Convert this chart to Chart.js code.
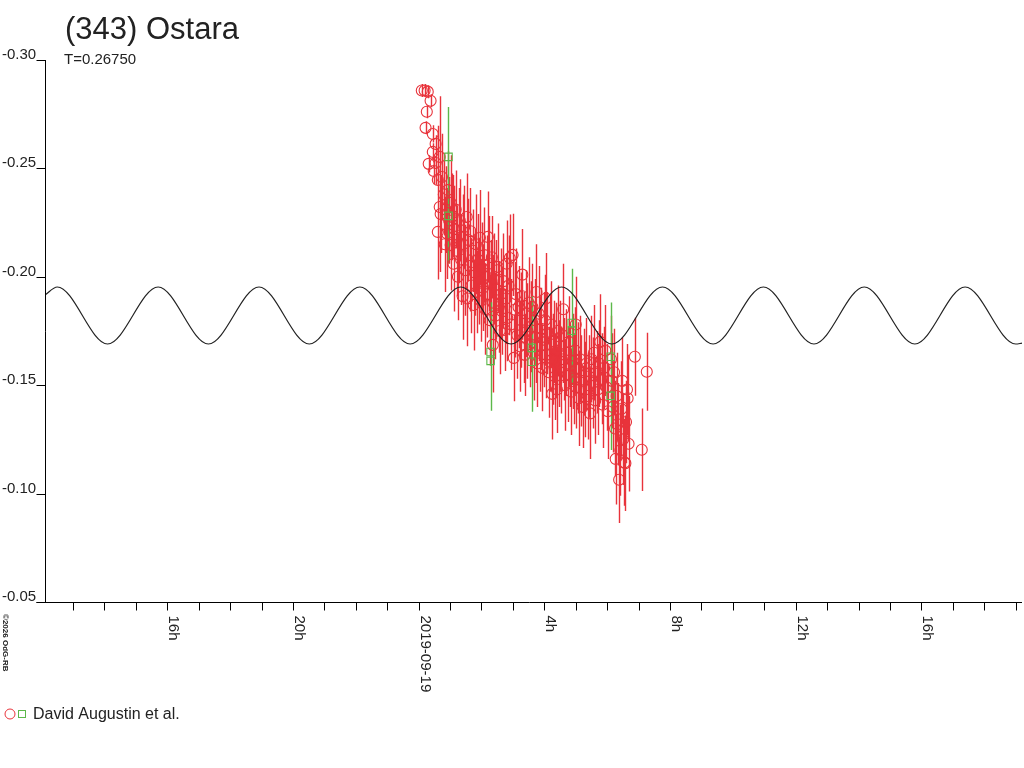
<!DOCTYPE html>
<html>
<head>
<meta charset="utf-8">
<title>(343) Ostara</title>
<script src="https://cdn.jsdelivr.net/npm/chart.js@4.4.1/dist/chart.umd.min.js"></script>
<style>
  html, body { margin:0; padding:0; background:#fff; }
  canvas { display:block; }
</style>
</head>
<body>
<canvas id="lc" width="1024" height="768" style="width:1024px;height:768px"></canvas>
<script>
// ---------- Data (hours from 2019-09-19 0h UT, relative magnitude) ----------
const TITLE = '(343) Ostara';
const PERIOD_TXT = 'T=0.26750';
const OBSERVER = 'David Augustin et al.';
const COPYRIGHT = '\u00a92026 OdG-RB';

const yTicks = [-0.30, -0.25, -0.20, -0.15, -0.10, -0.05];
const yTickLabels = ['-0.30', '-0.25', '-0.20', '-0.15', '-0.10', '-0.05'];
const xTickHours = [-8, -4, 0, 4, 8, 12, 16];
const xTickLabels = ['16h', '20h', '2019-09-19', '4h', '8h', '12h', '16h'];

// red circles
const redHours = [
  0.10, 0.19, 0.29, 0.38, 0.26, 0.22, 0.45, 0.54, 0.45, 0.32, 0.54, 0.67, 0.61, 0.48, 0.67, 0.61,
  0.74, 0.70, 0.80, 0.83, 0.86, 0.90, 0.93, 0.97, 1.02, 1.05, 1.02, 1.08, 1.11, 1.14, 1.18, 1.21,
  1.25, 1.28, 1.31, 1.35, 1.40, 1.41, 1.45, 1.48, 1.53, 1.55, 1.58,
  1.62, 1.65, 1.68, 1.72, 1.75, 1.78, 1.82, 1.85, 1.88, 1.92, 1.95, 1.98, 2.02, 2.05, 2.09, 2.12,
  2.16, 2.19, 2.20, 2.23, 2.26, 2.30, 2.33, 2.36, 2.37, 2.40, 2.44, 2.47, 2.51, 2.52, 2.55, 2.58,
  2.62, 2.66, 2.70, 2.74, 2.78, 2.80, 2.82, 2.86, 2.90, 2.94, 2.99, 3.03, 3.06, 3.10, 3.14, 3.18,
  3.22, 3.26, 3.30, 3.30, 3.34, 3.38, 3.42, 3.46, 3.50, 3.54,
  3.58, 3.62, 3.66, 3.70, 3.74, 3.75, 3.78, 3.82, 3.86, 3.90, 3.94, 3.98, 4.02, 4.05, 4.06, 4.10,
  4.14, 4.18, 4.22, 4.25, 4.26, 4.30, 4.34, 4.38, 4.40, 4.42, 4.46,
  4.50, 4.54, 4.58, 4.60, 4.62, 4.66, 4.70, 4.74, 4.78, 4.82, 4.86, 4.90, 4.94, 4.98, 5.00, 5.02,
  5.06, 5.10, 5.14, 5.18, 5.22, 5.26, 5.30, 5.34, 5.38, 5.42, 5.46,
  5.50, 5.54, 5.58, 5.62, 5.66, 5.70, 5.74, 5.78, 5.82, 5.86, 5.90, 5.94, 5.98, 6.02,
  6.12, 6.15, 6.18, 6.22, 6.25, 6.27, 6.30, 6.33, 6.38, 6.42, 6.45, 6.48, 6.50, 6.55, 6.58, 6.60,
  6.63, 6.65, 6.68, 6.88, 7.10, 7.26
];
const redMags = [
  -0.2859, -0.2859, -0.2854, -0.2812, -0.2761, -0.2687, -0.2659, -0.2613, -0.2576, -0.2521, -0.2525, -0.2553, -0.2447, -0.2488, -0.2322, -0.2207,
  -0.2460, -0.2290, -0.2380, -0.2150, -0.2310, -0.2200, -0.2400, -0.2260, -0.2341, -0.2276, -0.2147, -0.2280, -0.2060, -0.2220, -0.2310, -0.2120,
  -0.2000, -0.2190, -0.2260, -0.2080, -0.1910, -0.2150, -0.2230, -0.2030, -0.2276, -0.1900, -0.2170,
  -0.2050, -0.2210, -0.1960, -0.2120, -0.1870, -0.2020, -0.2150, -0.1930, -0.2080, -0.1980, -0.2180, -0.1890, -0.2040, -0.1950, -0.2100, -0.1850,
  -0.2000, -0.1920, -0.2184, -0.2060, -0.1800, -0.1970, -0.2090, -0.1686, -0.1880, -0.1990, -0.1820, -0.1940, -0.2030, -0.2046, -0.1860, -0.1750,
  -0.1920, -0.1840, -0.1980, -0.1755, -0.1900, -0.2060, -0.1810, -0.1960, -0.2087, -0.1780, -0.2101, -0.1626, -0.1848, -0.1920, -0.1730, -0.1860,
  -0.1680, -0.1800, -0.1910, -0.2010, -0.1720, -0.1640, -0.1830, -0.1750, -0.1880, -0.1690,
  -0.1770, -0.1860, -0.1650, -0.1800, -0.1720, -0.1930, -0.1600, -0.1830, -0.1680, -0.1760, -0.1580, -0.1710, -0.1800, -0.1900, -0.1640, -0.1740,
  -0.1560, -0.1690, -0.1780, -0.1460, -0.1620, -0.1700, -0.1540, -0.1660, -0.1480, -0.1750, -0.1600,
  -0.1680, -0.1570, -0.1730, -0.1850, -0.1620, -0.1500, -0.1650, -0.1550, -0.1700, -0.1590, -0.1470, -0.1610, -0.1530, -0.1660, -0.1780, -0.1490,
  -0.1580, -0.1440, -0.1620, -0.1520, -0.1400, -0.1560, -0.1480, -0.1600, -0.1450, -0.1540, -0.1370,
  -0.1620, -0.1510, -0.1650, -0.1430, -0.1560, -0.1480, -0.1600, -0.1700, -0.1530, -0.1410, -0.1580, -0.1660, -0.1490, -0.1380,
  -0.1620, -0.1520, -0.1400, -0.1560, -0.1300, -0.1160, -0.1450, -0.1320, -0.1064, -0.1200, -0.1390, -0.1520, -0.1250, -0.1144, -0.1140, -0.1330,
  -0.1480, -0.1440, -0.1230, -0.1631, -0.1202, -0.1562
];
const redErrs = [
  0.003, 0.003, 0.003, 0.003, 0.003, 0.003, 0.004, 0.004, 0.004, 0.004, 0.010, 0.028, 0.025, 0.006, 0.030, 0.022,
  0.020, 0.018, 0.019, 0.022, 0.020, 0.021, 0.018, 0.020, 0.022, 0.020, 0.021, 0.019, 0.022, 0.020, 0.018, 0.021,
  0.020, 0.022, 0.019, 0.021, 0.020, 0.023, 0.019, 0.021, 0.020, 0.022, 0.019,
  0.021, 0.020, 0.022, 0.019, 0.021, 0.020, 0.023, 0.019, 0.021, 0.020, 0.022, 0.019, 0.021, 0.020, 0.022, 0.021,
  0.019, 0.020, 0.021, 0.022, 0.021, 0.020, 0.019, 0.022, 0.022, 0.021, 0.020, 0.023, 0.019, 0.020, 0.021, 0.020,
  0.021, 0.020, 0.022, 0.019, 0.021, 0.020, 0.020, 0.023, 0.020, 0.021, 0.019, 0.020, 0.022, 0.021, 0.020, 0.019,
  0.021, 0.022, 0.020, 0.021, 0.021, 0.019, 0.020, 0.022, 0.021, 0.020,
  0.021, 0.020, 0.022, 0.019, 0.021, 0.022, 0.020, 0.022, 0.021, 0.019, 0.020, 0.022, 0.021, 0.021, 0.020, 0.019,
  0.021, 0.022, 0.020, 0.021, 0.021, 0.019, 0.020, 0.022, 0.020, 0.021, 0.020,
  0.021, 0.020, 0.022, 0.021, 0.019, 0.021, 0.020, 0.022, 0.021, 0.019, 0.020, 0.022, 0.021, 0.020, 0.022, 0.019,
  0.021, 0.022, 0.020, 0.021, 0.019, 0.020, 0.022, 0.021, 0.020, 0.019, 0.021,
  0.020, 0.021, 0.022, 0.020, 0.019, 0.021, 0.020, 0.022, 0.021, 0.020, 0.019, 0.021, 0.020, 0.022,
  0.020, 0.022, 0.021, 0.020, 0.022, 0.021, 0.020, 0.019, 0.020, 0.021, 0.022, 0.020, 0.021, 0.020, 0.022, 0.019,
  0.021, 0.020, 0.022, 0.018, 0.019, 0.018
];

// green squares
const greenHours = [0.95, 0.95, 2.29, 2.29, 3.60, 3.60, 4.87, 4.87, 6.11, 6.11];
const greenMags  = [-0.2553, -0.2281, -0.1653, -0.1612, -0.1672, -0.1608, -0.1787, -0.1751, -0.1631, -0.1451];
const greenErrs  = [0.023, 0.022, 0.023, 0.023, 0.024, 0.023, 0.025, 0.025, 0.025, 0.025];

// fitted lightcurve: extremes
const curveHours = [-11.89, -11.50, -9.90, -8.29, -6.69, -5.08, -3.48, -1.87, -0.27, 1.34, 2.94,
                    4.55, 6.15, 7.76, 9.37, 10.97, 12.58, 14.18, 15.79, 17.39, 19.00, 19.20];
const curveMags  = [-0.1916, -0.1953, -0.1690, -0.1953, -0.1690, -0.1953, -0.1690, -0.1953, -0.1690, -0.1953, -0.1690,
                    -0.1953, -0.1690, -0.1953, -0.1690, -0.1953, -0.1690, -0.1953, -0.1690, -0.1953, -0.1690, -0.1694];

const X_MIN = -11.89, X_MAX = 19.20;

// ---------- Helpers ----------
const RED = '#e8333b';
const GREEN = '#5cb84a';
const FONT = '"Liberation Sans", Arial, sans-serif';
const pts = (xs, ys) => xs.map((x, i) => ({ x, y: ys[i] }));

// error bars under the markers
const errorBars = {
  id: 'errorBars',
  beforeDatasetsDraw(chart) {
    const { ctx, scales: { x, y } } = chart;
    chart.data.datasets.forEach(ds => {
      if (!ds.errors) return;
      ctx.save();
      ctx.strokeStyle = ds.borderColor;
      ctx.lineWidth = 1.4;
      ctx.beginPath();
      ds.data.forEach((p, j) => {
        const e = ds.errors[j];
        const px = Math.round(x.getPixelForValue(p.x)) + 0.5;
        ctx.moveTo(px, y.getPixelForValue(p.y - e));
        ctx.lineTo(px, y.getPixelForValue(p.y + e));
      });
      ctx.stroke();
      ctx.restore();
    });
  }
};

// axes, titles, legend
const frame = {
  id: 'frame',
  afterDraw(chart) {
    const { ctx, chartArea: a, scales: { x, y } } = chart;
    ctx.save();
    ctx.strokeStyle = '#000';
    ctx.lineWidth = 1;
    ctx.beginPath();
    const L = Math.round(a.left) + 0.5, B = Math.round(a.bottom) + 0.5;
    ctx.moveTo(L, a.top); ctx.lineTo(L, B);
    ctx.moveTo(L - 9, B); ctx.lineTo(a.right, B);
    yTicks.forEach(v => {
      const py = Math.round(y.getPixelForValue(v)) + 0.5;
      ctx.moveTo(L - 9, py); ctx.lineTo(L, py);
    });
    for (let h = Math.ceil(X_MIN); h <= Math.floor(X_MAX); h++) {
      const px = Math.round(x.getPixelForValue(h)) + 0.5;
      ctx.moveTo(px, B); ctx.lineTo(px, B + 8);
    }
    ctx.stroke();

    ctx.fillStyle = '#222';
    ctx.font = '15px ' + FONT;
    ctx.textAlign = 'left';
    ctx.textBaseline = 'alphabetic';
    yTicks.forEach((v, i) => {
      ctx.fillText(yTickLabels[i], 2, Math.round(y.getPixelForValue(v)) - 1);
    });
    xTickHours.forEach((h, i) => {
      const px = Math.round(x.getPixelForValue(h));
      ctx.save();
      ctx.translate(px, B + 13);
      ctx.rotate(Math.PI / 2);
      ctx.textBaseline = 'bottom';
      ctx.fillText(xTickLabels[i], 0, 1);
      ctx.restore();
    });

    // title
    ctx.font = '31px ' + FONT;
    ctx.fillText(TITLE, 65, 39);
    ctx.font = '15px ' + FONT;
    ctx.fillText(PERIOD_TXT, 64, 64);

    // copyright
    ctx.save();
    ctx.font = 'bold 8px ' + FONT;
    ctx.translate(1, 614);
    ctx.rotate(Math.PI / 2);
    ctx.textBaseline = 'bottom';
    ctx.fillText(COPYRIGHT, 0, 0);
    ctx.restore();

    // legend
    ctx.lineWidth = 1;
    ctx.strokeStyle = RED;
    ctx.beginPath(); ctx.arc(10, 714, 5, 0, Math.PI * 2); ctx.stroke();
    ctx.strokeStyle = GREEN;
    ctx.strokeRect(18.5, 710.5, 7, 7);
    ctx.font = '16px ' + FONT;
    ctx.fillText(OBSERVER, 33, 719);
    ctx.restore();
  }
};

// ---------- Chart ----------
new Chart(document.getElementById('lc'), {
  type: 'scatter',
  data: {
    datasets: [
      {
        type: 'line',
        label: 'fit',
        data: pts(curveHours, curveMags),
        borderColor: '#222',
        borderWidth: 1.2,
        pointRadius: 0,
        fill: false,
        cubicInterpolationMode: 'monotone',
        order: 0
      },
      {
        label: OBSERVER,
        data: pts(redHours, redMags),
        errors: redErrs,
        borderColor: RED,
        backgroundColor: 'rgba(0,0,0,0)',
        pointStyle: 'circle',
        pointRadius: 5.5,
        borderWidth: 1.1,
        order: 2
      },
      {
        label: OBSERVER + ' (2)',
        data: pts(greenHours, greenMags),
        errors: greenErrs,
        borderColor: GREEN,
        backgroundColor: 'rgba(0,0,0,0)',
        pointStyle: 'rect',
        pointRadius: 5.3,
        borderWidth: 1.1,
        order: 1
      }
    ]
  },
  options: {
    responsive: false,
    devicePixelRatio: 1,
    animation: false,
    layout: { autoPadding: false, padding: { left: 45, right: 2, top: 60, bottom: 166 } },
    plugins: { legend: { display: false }, tooltip: { enabled: false }, title: { display: false } },
    scales: {
      x: { type: 'linear', min: X_MIN, max: X_MAX, display: false },
      y: { type: 'linear', min: -0.30, max: -0.05, reverse: true, display: false }
    }
  },
  plugins: [errorBars, frame]
});
</script>
</body>
</html>
